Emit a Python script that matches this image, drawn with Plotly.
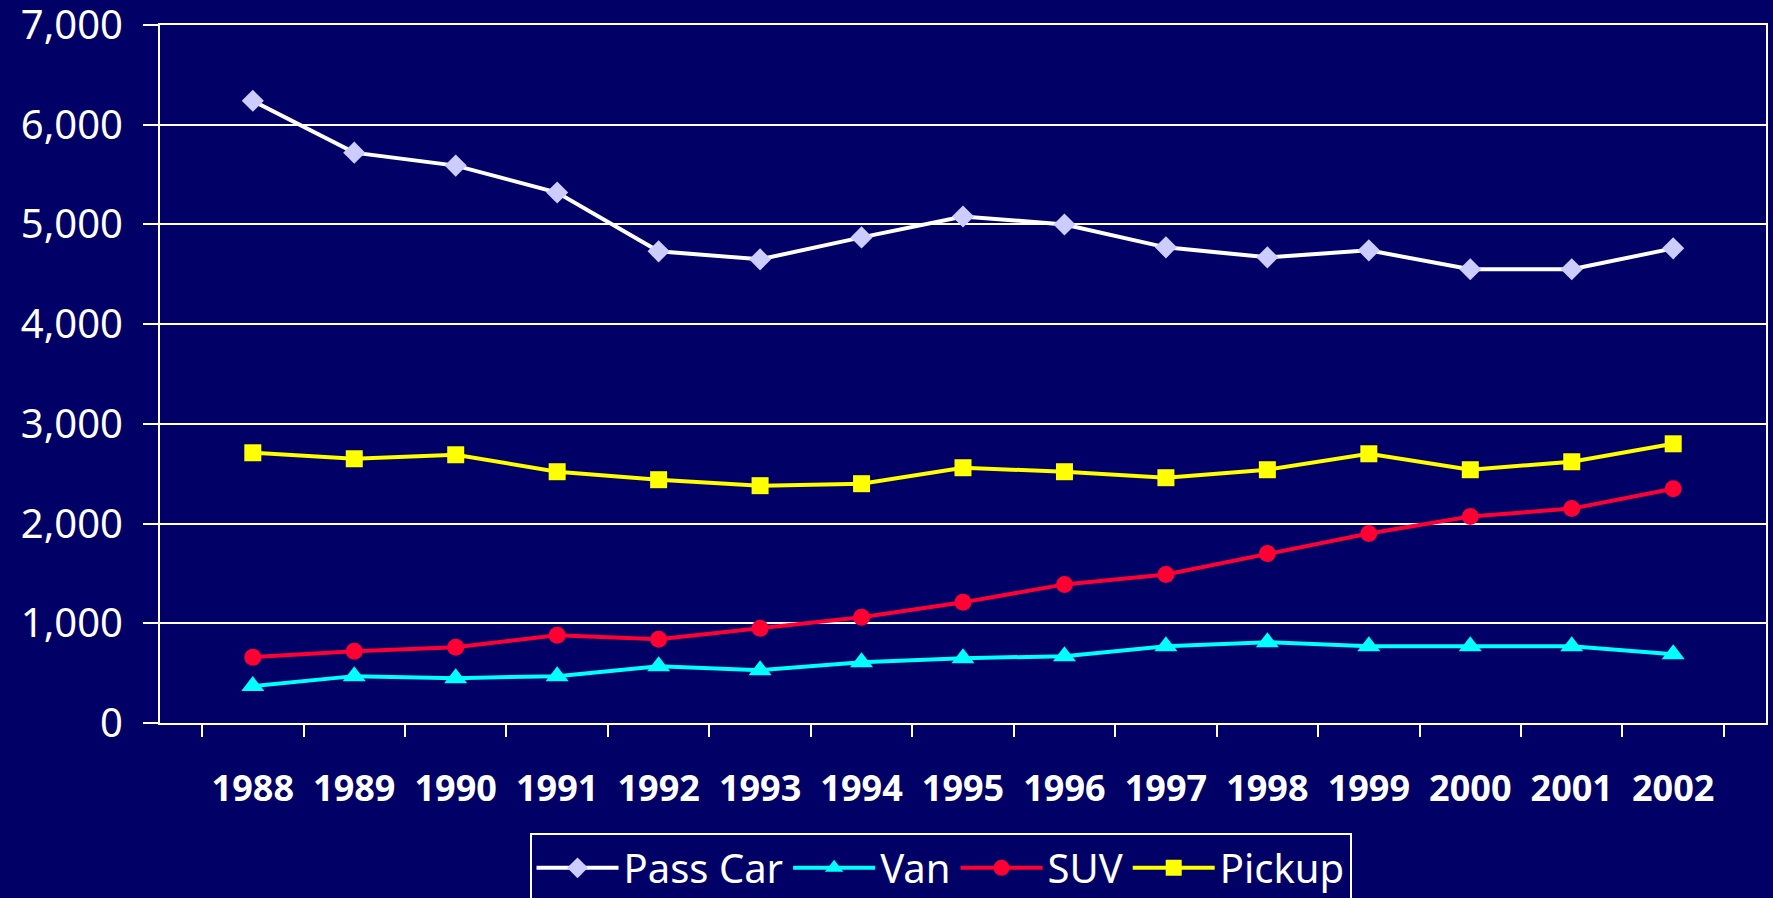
"""Light vehicle counts by type, 1988-2002."""

import plotly.graph_objects as go

years = [str(y) for y in range(1988, 2003)]

pass_car = [6240, 5720, 5590, 5320, 4730, 4650, 4870, 5080, 5000, 4770, 4670, 4740, 4550, 4550, 4760]
van = [370, 470, 450, 470, 570, 530, 610, 650, 670, 770, 810, 770, 770, 770, 690]
suv = [660, 720, 760, 880, 840, 950, 1060, 1210, 1390, 1490, 1700, 1900, 2070, 2150, 2350]
pickup = [2710, 2650, 2690, 2520, 2440, 2380, 2400, 2560, 2520, 2460, 2540, 2700, 2540, 2620, 2800]

BG = "#000066"
FONT = "Comic Sans MS, Noto Sans, sans-serif"

series = [
    ("Pass Car", pass_car, "white", "#CCCCFF", "diamond", 17),
    ("Van", van, "#00FFFF", "#00FFFF", "triangle-up", 20),
    ("SUV", suv, "#FF0033", "#FF0033", "circle", 17),
    ("Pickup", pickup, "#FFFF00", "#FFFF00", "square", 17),
]

fig = go.Figure()
for name, values, line_color, marker_color, symbol, size in series:
    fig.add_trace(
        go.Scatter(
            x=years,
            y=values,
            name=name,
            mode="lines+markers",
            line=dict(color=line_color, width=4),
            marker=dict(color=marker_color, symbol=symbol, size=size),
        )
    )

fig.update_layout(
    width=1773,
    height=898,
    paper_bgcolor=BG,
    plot_bgcolor=BG,
    margin=dict(l=160, r=7, t=25, b=175, autoexpand=False),
    font=dict(family=FONT, color="white"),
    showlegend=True,
    legend=dict(
        orientation="h",
        x=0.486,
        xanchor="center",
        y=-0.158,
        yanchor="top",
        bgcolor=BG,
        bordercolor="white",
        borderwidth=2,
        font=dict(size=40, color="white"),
        itemwidth=82,
        tracegroupgap=0,
    ),
)

fig.update_xaxes(
    type="category",
    automargin=False,
    showgrid=False,
    showline=True,
    linecolor="white",
    linewidth=2,
    mirror=True,
    ticks="outside",
    tickson="boundaries",
    ticklen=12,
    tickwidth=2,
    tickcolor="white",
    ticklabelstandoff=33,
    tickfont=dict(size=36, color="white", family=FONT, weight="bold"),
)

fig.update_yaxes(
    range=[0, 7000],
    dtick=1000,
    tickformat=",",
    automargin=False,
    showgrid=True,
    gridcolor="white",
    gridwidth=2,
    zeroline=False,
    showline=True,
    linecolor="white",
    linewidth=2,
    mirror=True,
    ticks="outside",
    ticklen=15,
    tickwidth=2,
    tickcolor="white",
    ticklabelstandoff=12,
    ticklabeloverflow="allow",
    tickfont=dict(size=40, color="white", family=FONT),
)

# drop the page's default body margin so the figure sits at the window corner
fig.write_html(
    "out.html",
    config={"displayModeBar": False},
    post_script="document.body.style.margin = '0';",
)
